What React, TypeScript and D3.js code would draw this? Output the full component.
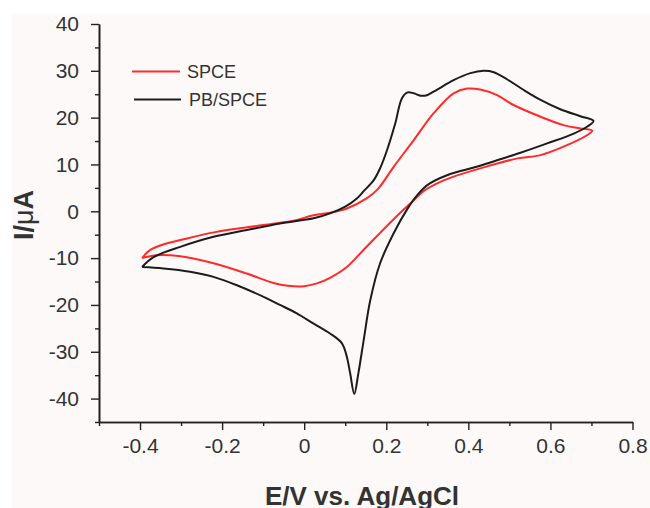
import React, { useEffect, useRef } from "react";
import * as d3 from "d3";

// cyclic voltammograms, scan starts at the left vertex
const spceE = [
  -0.395, -0.376, -0.34, -0.302, -0.22, -0.1, -0.02, 0.02, 0.063, 0.104, 0.153,
  0.18, 0.218, 0.267, 0.315, 0.364, 0.397, 0.429, 0.47, 0.51, 0.576, 0.632,
  0.673, 0.702, 0.69, 0.632, 0.576, 0.52, 0.446, 0.364, 0.32, 0.291, 0.26,
  0.226, 0.185, 0.145, 0.104, 0.063, 0.031, 0.0, -0.04, -0.075, -0.14, -0.221,
  -0.302, -0.36, -0.395,
];
const spceI = [
  -10.0, -8.3, -7.0, -6.15, -4.5, -2.95, -1.9, -0.9, -0.3, 0.6, 2.8, 4.8, 9.5,
  15.2, 20.9, 25.2, 26.2, 26.0, 24.8, 22.7, 20.2, 18.4, 17.7, 17.2, 16.3, 13.8,
  12.0, 11.3, 9.6, 7.4, 5.8, 4.3, 1.8, -1.0, -4.6, -8.2, -11.9, -14.2, -15.4,
  -16.0, -15.9, -15.3, -13.3, -11.1, -9.6, -9.4, -10.0,
];

const pbE = [
  -0.395, -0.368, -0.302, -0.221, -0.14, -0.059, 0.023, 0.063, 0.1, 0.129,
  0.145, 0.169, 0.185, 0.202, 0.222, 0.238, 0.252, 0.267, 0.283, 0.299, 0.324,
  0.364, 0.405, 0.437, 0.462, 0.494, 0.535, 0.576, 0.624, 0.673, 0.705, 0.69,
  0.657, 0.592, 0.527, 0.47, 0.42, 0.348, 0.3, 0.275, 0.25, 0.218, 0.185,
  0.161, 0.145, 0.132, 0.122, 0.112, 0.104, 0.092, 0.063, 0.023, -0.018,
  -0.059, -0.091, -0.164, -0.221, -0.278, -0.343, -0.395,
];
const pbI = [
  -11.9, -9.85, -7.6, -5.45, -4.0, -2.6, -1.5, -0.45, 1.0, 2.8, 4.3, 6.6, 9.2,
  13.1, 18.8, 24.1, 25.4, 25.2, 24.7, 24.8, 26.0, 28.0, 29.5, 30.0, 29.7, 28.2,
  25.9, 23.8, 21.8, 20.3, 19.3, 18.1, 16.6, 14.5, 12.5, 10.9, 9.5, 7.7, 5.6,
  3.4, 0.3, -4.7, -11.1, -19.0, -27.5, -34.6, -39.0, -34.6, -31.1, -28.2,
  -26.1, -24.0, -21.8, -20.0, -18.6, -15.8, -14.0, -12.9, -12.2, -11.9,
];

const xMajor = [-0.4, -0.2, 0, 0.2, 0.4, 0.6, 0.8];
const xMinor = [-0.5, -0.3, -0.1, 0.1, 0.3, 0.5, 0.7];
const yMajor = [-40, -30, -20, -10, 0, 10, 20, 30, 40];
const yMinor = [-45, -35, -25, -15, -5, 5, 15, 25, 35];

const seriesNames = ["SPCE", "PB/SPCE"];
const seriesColors = ["#ff2a2a", "#1c1c1c"];

const App = () => {
  const chart = useRef<SVGSVGElement>(null);

  useEffect(() => {
    const svg = d3.select(chart.current);
    svg.selectAll("*").remove();

    const font = "Liberation Sans, Arial, sans-serif";
    const x = d3.scaleLinear().domain([-0.5, 0.8]).range([99, 632.5]);
    const y = d3.scaleLinear().domain([-45, 40]).range([422, 24]);

    svg
      .append("rect")
      .attr("x", 12)
      .attr("y", 14)
      .attr("width", 638)
      .attr("height", 494)
      .attr("fill", "#fdf9f9");

    const series = [
      { e: spceE, i: spceI },
      { e: pbE, i: pbI },
    ];
    series.forEach((s, k) => {
      const line = d3
        .line<number>()
        .x((d) => x(s.e[d]))
        .y((d) => y(s.i[d]))
        .curve(d3.curveCatmullRom.alpha(0.5));
      svg
        .append("path")
        .attr("d", line(d3.range(s.e.length)))
        .attr("fill", "none")
        .attr("stroke", seriesColors[k])
        .attr("stroke-width", 2)
        .attr("stroke-linejoin", "round");
    });

    // axes
    const styleAxis = (g) => {
      g.select(".domain").attr("stroke", "#222").attr("stroke-width", 1.6);
      g.selectAll(".tick line").attr("stroke", "#222").attr("stroke-width", 1.4);
      g.selectAll("text")
        .attr("fill", "#333")
        .attr("font-family", font)
        .attr("font-size", 21);
    };

    svg
      .append("g")
      .attr("transform", "translate(0,422)")
      .call(d3.axisBottom(x).tickValues(xMinor).tickSize(4).tickSizeOuter(0).tickFormat(() => ""))
      .call(styleAxis);
    svg
      .append("g")
      .attr("transform", "translate(0,422)")
      .call(
        d3
          .axisBottom(x)
          .tickValues(xMajor)
          .tickSize(8)
          .tickSizeOuter(0)
          .tickPadding(8)
          .tickFormat((d) => (d === 0 ? "0" : (+d).toFixed(1)))
      )
      .call(styleAxis);

    svg
      .append("g")
      .attr("transform", "translate(99,0)")
      .call(d3.axisLeft(y).tickValues(yMinor).tickSize(4).tickSizeOuter(0).tickFormat(() => ""))
      .call(styleAxis);
    svg
      .append("g")
      .attr("transform", "translate(99,0)")
      .call(
        d3
          .axisLeft(y)
          .tickValues(yMajor)
          .tickSize(8)
          .tickSizeOuter(0)
          .tickPadding(12)
          .tickFormat((d) => String(d))
      )
      .call(styleAxis);

    // titles
    svg
      .append("text")
      .attr("x", 362)
      .attr("y", 505)
      .attr("text-anchor", "middle")
      .attr("font-family", font)
      .attr("font-weight", "bold")
      .attr("font-size", 26)
      .attr("fill", "#333")
      .text("E/V vs. Ag/AgCl");

    const yt = svg
      .append("text")
      .attr("transform", "translate(33,215) rotate(-90)")
      .attr("text-anchor", "middle")
      .attr("font-family", font)
      .attr("font-weight", "bold")
      .attr("font-size", 27)
      .attr("fill", "#333");
    yt.append("tspan").text("I/");
    yt.append("tspan").attr("font-weight", "normal").text("\u03bc");
    yt.append("tspan").text("A");

    // legend
    const legend = svg.append("g");
    seriesNames.forEach((name, k) => {
      const ly = 71.5 + k * 28;
      legend
        .append("line")
        .attr("x1", 132 + k * 2)
        .attr("x2", 180 + k)
        .attr("y1", ly)
        .attr("y2", ly)
        .attr("stroke", seriesColors[k])
        .attr("stroke-width", 2);
      legend
        .append("text")
        .attr("x", 187 + k * 2)
        .attr("y", ly + 6.5)
        .attr("font-family", font)
        .attr("font-size", 18)
        .attr("fill", "#333")
        .text(name);
    });
  }, []);

  return (
    <div>
      <svg
        ref={chart}
        width={650}
        height={508}
        style={{ position: "absolute", left: 0, top: 0, background: "#fff" }}
      ></svg>
    </div>
  );
};

export default App;
